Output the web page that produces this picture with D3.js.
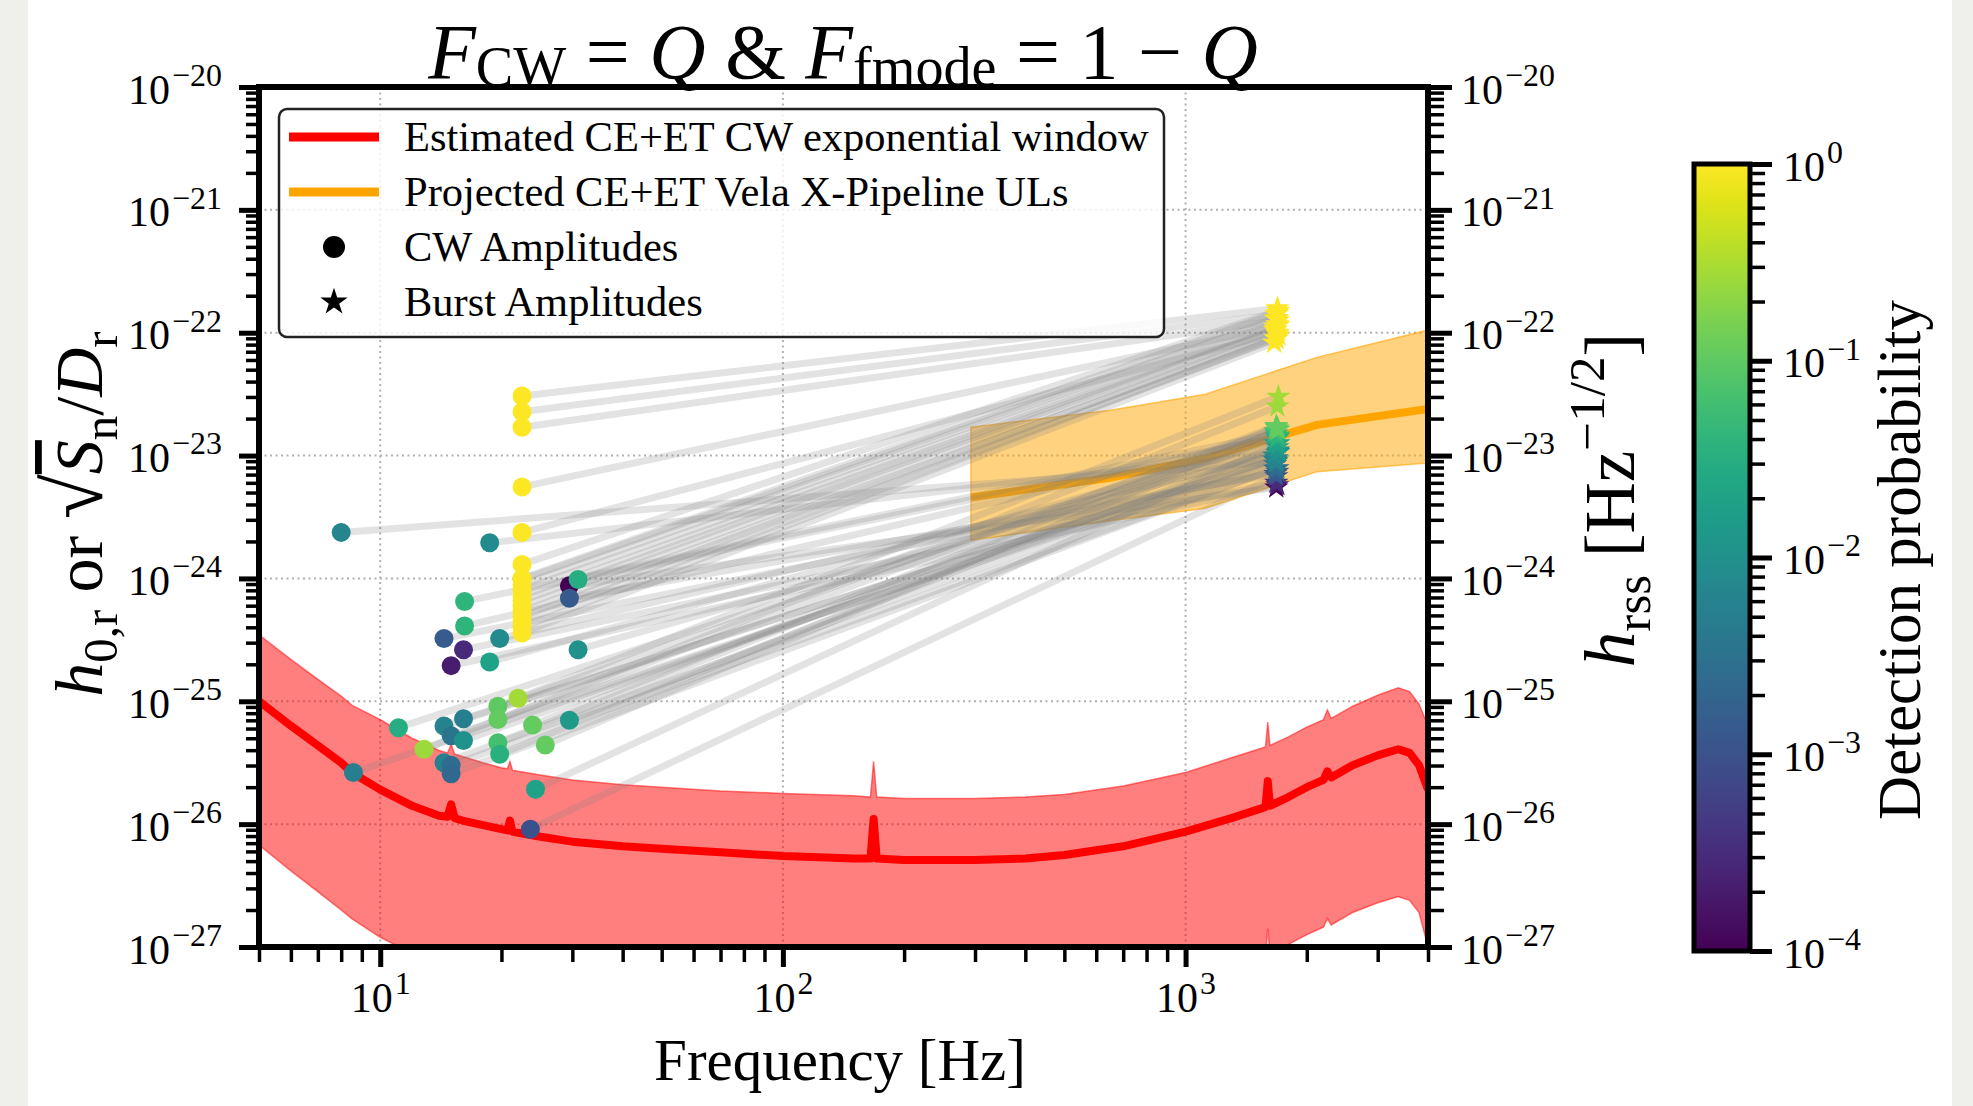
<!DOCTYPE html>
<html>
<head>
<meta charset="utf-8">
<script src="https://cdn.jsdelivr.net/npm/d3@7"></script>
<style>
  body { margin: 0; background: #eff0eb; }
  svg { display: block; }
  text { font-family: "Liberation Serif", "DejaVu Serif", serif; fill: #000; }
</style>
</head>
<body>
<svg id="chart" width="1973" height="1106"></svg>
<script>
// Sensitivity curve (CE+ET CW exponential window): frequency, centre, upper and lower edge
const sensFreq  = [5, 6, 7, 8, 8.5, 10, 12, 14, 14.7, 15, 15.3, 16, 18, 20, 20.7, 21, 21.3, 22, 25, 30, 40, 50, 70, 100, 150, 165, 168, 171, 200, 300, 400, 500, 700, 1000, 1300, 1550, 1580, 1600, 1620, 1800, 2000, 2200, 2250, 2300, 2600, 3000, 3374, 3600, 3800, 4000];
const sensCenter = [1.0e-25, 6.31e-26, 4.37e-26, 3.16e-26, 2.63e-26, 1.91e-26, 1.41e-26, 1.17e-26, 1.15e-26, 1.45e-26, 1.12e-26, 1.07e-26, 9.8e-27, 9.1e-27, 8.9e-27, 1.07e-26, 8.7e-27, 8.5e-27, 7.9e-27, 7.2e-27, 6.6e-27, 6.3e-27, 5.9e-27, 5.5e-27, 5.25e-27, 5.25e-27, 1.10e-26, 5.25e-27, 5.1e-27, 5.1e-27, 5.25e-27, 5.6e-27, 6.6e-27, 8.7e-27, 1.12e-26, 1.35e-26, 1.38e-26, 2.24e-26, 1.41e-26, 1.66e-26, 2.0e-26, 2.29e-26, 2.69e-26, 2.40e-26, 3.02e-26, 3.63e-26, 4.07e-26, 3.80e-26, 3.02e-26, 1.91e-26];
const sensUpper = [3.47e-25, 2.19e-25, 1.51e-25, 1.10e-25, 9.3e-26, 7.1e-26, 5.0e-26, 3.98e-26, 3.80e-26, 4.47e-26, 3.72e-26, 3.55e-26, 3.16e-26, 2.88e-26, 2.82e-26, 3.24e-26, 2.75e-26, 2.69e-26, 2.51e-26, 2.29e-26, 2.09e-26, 2.0e-26, 1.86e-26, 1.78e-26, 1.70e-26, 1.66e-26, 3.24e-26, 1.66e-26, 1.62e-26, 1.62e-26, 1.66e-26, 1.74e-26, 2.04e-26, 2.63e-26, 3.47e-26, 4.17e-26, 4.27e-26, 6.76e-26, 4.37e-26, 5.13e-26, 6.17e-26, 7.08e-26, 8.51e-26, 7.24e-26, 9.12e-26, 1.12e-25, 1.29e-25, 1.20e-25, 9.5e-26, 6.31e-26];
const sensLower = [6.76e-27, 4.17e-27, 2.82e-27, 2.0e-27, 1.70e-27, 1.20e-27, 8.9e-28, 7.4e-28, 7.1e-28, 8.9e-28, 7.0e-28, 6.8e-28, 6.2e-28, 5.8e-28, 5.6e-28, 6.8e-28, 5.5e-28, 5.4e-28, 5.0e-28, 4.6e-28, 4.2e-28, 4.0e-28, 3.7e-28, 3.5e-28, 3.3e-28, 3.3e-28, 6.9e-28, 3.3e-28, 3.2e-28, 3.2e-28, 3.3e-28, 3.5e-28, 4.2e-28, 5.5e-28, 7.1e-28, 8.5e-28, 8.7e-28, 1.41e-27, 8.9e-28, 1.05e-27, 1.26e-27, 1.45e-27, 1.70e-27, 1.51e-27, 1.91e-27, 2.29e-27, 2.57e-27, 2.40e-27, 1.91e-27, 1.0e-27];

// Projected Vela X-Pipeline upper limits
const velaFreq   = [293, 650, 1120, 2120, 4000];
const velaCenter = [4.57e-24, 6.6e-24, 9.5e-24, 1.78e-23, 2.40e-23];
const velaUpper  = [1.70e-23, 2.34e-23, 3.16e-23, 6.3e-23, 1.05e-22];
const velaLower  = [2.04e-24, 2.95e-24, 3.72e-24, 7.4e-24, 8.7e-24];

// CW amplitudes (circles), detection probability and matching burst amplitudes (stars)
const cwFreq    = [22.5, 22.5, 22.5, 22.5, 22.5, 22.5, 22.5, 22.5, 22.5, 22.5, 22.5, 22.5, 22.5, 22.5, 22.5, 22.5, 22.5, 22.5,
                   8.0, 18.7, 29.5, 31.0, 29.5, 16.2, 16.2, 14.4, 16.1, 19.8, 15.0, 18.7, 31.0, 22.0, 19.6, 19.6, 16.1, 11.1, 14.4, 15.0, 16.1, 23.9, 29.5, 12.85, 19.6, 19.8, 25.7, 14.4, 15.0, 15.0, 8.58, 24.3, 23.6];
const cwAmp     = [3.05e-23, 2.27e-23, 1.70e-23, 5.56e-24, 2.37e-24, 1.30e-24, 9.8e-25, 8.1e-25, 6.6e-25, 5.4e-25, 4.5e-25, 3.6e-25, 1.0e-24, 8.9e-25, 7.2e-25, 6.0e-25, 4.9e-25, 4.0e-25,
                   2.37e-24, 1.95e-24, 8.7e-25, 9.8e-25, 6.9e-25, 6.5e-25, 4.1e-25, 3.24e-25, 2.63e-25, 3.24e-25, 1.95e-25, 2.09e-25, 2.63e-25, 1.06e-25, 9.1e-26, 7.1e-26, 7.2e-26, 6.1e-26, 6.3e-26, 5.25e-26, 4.8e-26, 6.4e-26, 7.0e-26, 4.07e-26, 4.6e-26, 3.7e-26, 4.4e-26, 3.16e-26, 3.02e-26, 2.57e-26, 2.63e-26, 1.92e-26, 9.1e-27];
const detProb   = [1.0, 0.98, 0.97, 0.96, 0.95, 0.99, 0.7, 0.97, 0.98, 0.96, 0.97, 0.95, 0.98, 0.97, 0.99, 0.96, 0.98, 0.97,
                   0.0063, 0.008, 0.0001, 0.03, 0.0013, 0.04, 0.04, 0.0014, 0.0003, 0.008, 0.0002, 0.02, 0.01, 0.28, 0.1, 0.11, 0.005, 0.03, 0.0063, 0.0035, 0.011, 0.11, 0.014, 0.25, 0.063, 0.035, 0.11, 0.0056, 0.0025, 0.0022, 0.005, 0.02, 0.001];
const burstFreq = [1690, 1680, 1700, 1670, 1690, 1700, 1680, 1690, 1670, 1700, 1680, 1660, 1690, 1680, 1700, 1670, 1690, 1680,
                   1680, 1690, 1680, 1690, 1670, 1680, 1700, 1690, 1680, 1660, 1690, 1670, 1700, 1700, 1690, 1680, 1660, 1690, 1680, 1670, 1700, 1680, 1690, 1690, 1670, 1690, 1700, 1680, 1690, 1670, 1680, 1700, 1680];
const burstAmp  = [1.58e-22, 1.41e-22, 1.26e-22, 1.12e-22, 1.0e-22, 1.51e-22, 1.32e-22, 1.17e-22, 1.07e-22, 9.5e-23, 8.9e-23, 8.3e-23, 1.45e-22, 1.29e-22, 1.15e-22, 1.05e-22, 9.8e-23, 9.1e-23,
                   8.9e-24, 1.05e-23, 5.5e-24, 1.41e-23, 7.1e-24, 1.51e-23, 1.45e-23, 7.4e-24, 6.0e-24, 1.0e-23, 5.75e-24, 1.26e-23, 1.10e-23, 3.02e-23, 1.66e-23, 1.74e-23, 9.3e-24, 1.38e-23, 9.5e-24, 8.5e-24, 1.07e-23, 1.70e-23, 1.17e-23, 2.51e-23, 1.58e-23, 1.45e-23, 1.62e-23, 9.1e-24, 7.9e-24, 7.8e-24, 9.3e-24, 1.26e-23, 6.8e-24];

const xMajor  = [10, 100, 1000];
const yMajor  = [1e-27, 1e-26, 1e-25, 1e-24, 1e-23, 1e-22, 1e-21, 1e-20];
const cbMajor = [1e-4, 1e-3, 1e-2, 1e-1, 1];

const legendLabels = ["Estimated CE+ET CW exponential window", "Projected CE+ET Vela X-Pipeline ULs", "CW Amplitudes", "Burst Amplitudes"];

// ---------------------------------------------------------------
const svg = d3.select("#chart");
const plot = {left: 259, right: 1428, top: 87, bottom: 947};

svg.append("rect").attr("x", 28).attr("y", 0).attr("width", 1924).attr("height", 1106).attr("fill", "#fff");

const x = d3.scaleLog().domain([5, 4000]).range([plot.left, plot.right]);
const y = d3.scaleLog().domain([1e-27, 1e-20]).range([plot.bottom, plot.top]);
const color = d3.scaleSequentialLog(d3.interpolateViridis).domain([1e-4, 1]);

function minorTicks(lo, hi) {
  const out = [];
  for (let e = Math.floor(Math.log10(lo)); e <= Math.ceil(Math.log10(hi)); e++) {
    for (let k = 2; k <= 9; k++) {
      const v = k * Math.pow(10, e);
      if (v >= lo * 0.999 && v <= hi * 1.001) out.push(v);
    }
  }
  return out;
}

// write "10^n" with a superscript into a text node
function powLabel(sel, size) {
  sel.each(function(d) {
    const t = d3.select(this).text(null).attr("font-size", size);
    const e = Math.round(Math.log10(d));
    t.append("tspan").text("10");
    t.append("tspan").attr("dx", 2).attr("dy", -0.42 * size).attr("font-size", 0.76 * size)
      .text(e < 0 ? "\u2212" + (-e) : String(e));
  });
}

// math-like text with sub/superscripts
function mathText(text, parts, size, subShift) {
  let cur = 0;
  parts.forEach(p => {
    const shift = p.sub ? (subShift || 0.22) * size : p.sup ? -0.42 * size : 0;
    const ts = text.append("tspan").text(p.t)
      .attr("dy", shift - cur)
      .attr("font-size", (p.sub || p.sup) ? 0.72 * size : (p.scale || 1) * size)
      .attr("font-style", p.it ? "italic" : "normal");
    if (p.over) ts.attr("text-decoration", "overline");
    cur = shift;
  });
}

svg.append("defs").append("clipPath").attr("id", "clip")
  .append("rect").attr("x", plot.left).attr("y", plot.top)
  .attr("width", plot.right - plot.left).attr("height", plot.bottom - plot.top);

// grid
const grid = svg.append("g").attr("stroke", "#b0b0b0").attr("stroke-width", 2).attr("stroke-dasharray", "2 3.5");
grid.selectAll("line.gx").data(xMajor).join("line")
  .attr("x1", d => x(d)).attr("x2", d => x(d)).attr("y1", plot.top).attr("y2", plot.bottom);
grid.selectAll("line.gy").data(yMajor).join("line")
  .attr("y1", d => y(d)).attr("y2", d => y(d)).attr("x1", plot.left).attr("x2", plot.right);

const g = svg.append("g").attr("clip-path", "url(#clip)");

const sens = sensFreq.map((f, i) => ({f, c: sensCenter[i], u: sensUpper[i], l: sensLower[i]}));
const vela = velaFreq.map((f, i) => ({f, c: velaCenter[i], u: velaUpper[i], l: velaLower[i]}));

const band = d3.area().x(d => x(d.f)).y0(d => y(d.l)).y1(d => y(d.u));
const mid = d3.line().x(d => x(d.f)).y(d => y(d.c));

g.append("path").datum(sens).attr("d", band)
  .attr("fill", "red").attr("fill-opacity", 0.5)
  .attr("stroke", "red").attr("stroke-opacity", 0.5).attr("stroke-width", 1.5);
g.append("path").datum(sens).attr("d", mid)
  .attr("fill", "none").attr("stroke", "red").attr("stroke-width", 8).attr("stroke-linejoin", "round");

g.append("path").datum(vela).attr("d", band)
  .attr("fill", "orange").attr("fill-opacity", 0.5)
  .attr("stroke", "orange").attr("stroke-opacity", 0.6).attr("stroke-width", 1.5);
g.append("path").datum(vela).attr("d", mid)
  .attr("fill", "none").attr("stroke", "orange").attr("stroke-width", 8);

const pts = cwFreq.map((f, i) => ({cf: f, ca: cwAmp[i], p: detProb[i], bf: burstFreq[i], ba: burstAmp[i]}));

g.append("g").selectAll("line").data(pts).join("line")
  .attr("x1", d => x(d.cf)).attr("y1", d => y(d.ca))
  .attr("x2", d => x(d.bf)).attr("y2", d => y(d.ba))
  .attr("stroke", "gray").attr("stroke-opacity", 0.22).attr("stroke-width", 7);

g.append("g").selectAll("circle").data(pts).join("circle")
  .attr("cx", d => x(d.cf)).attr("cy", d => y(d.ca)).attr("r", 9.5)
  .attr("fill", d => color(d.p));

const star = d3.symbol(d3.symbolStar, 185);
g.append("g").selectAll("path").data(pts.slice().sort((a, b) => a.p - b.p)).join("path")
  .attr("d", star)
  .attr("transform", d => `translate(${x(d.bf)},${y(d.ba)})`)
  .attr("fill", d => color(d.p));

// axes
function styleTicks(sel, w) {
  sel.select(".domain").remove();
  sel.selectAll(".tick line").attr("stroke", "#000").attr("stroke-width", w);
}

const xMinor = minorTicks(5, 4000);
svg.append("g").attr("transform", `translate(0,${plot.bottom})`)
  .call(d3.axisBottom(x).tickValues(xMinor).tickSize(15).tickFormat(""))
  .call(s => styleTicks(s, 3.5));
const xAx = svg.append("g").attr("transform", `translate(0,${plot.bottom})`)
  .call(d3.axisBottom(x).tickValues(xMajor).tickSize(20).tickSizeOuter(0))
  .call(s => styleTicks(s, 5));
xAx.selectAll(".tick text").attr("y", 65).attr("dy", 0).call(powLabel, 42);

const yMinor = minorTicks(1e-27, 1e-20);
svg.append("g").attr("transform", `translate(${plot.left},0)`)
  .call(d3.axisLeft(y).tickValues(yMinor).tickSize(13).tickFormat(""))
  .call(s => styleTicks(s, 3.5));
const yAx = svg.append("g").attr("transform", `translate(${plot.left},0)`)
  .call(d3.axisLeft(y).tickValues(yMajor).tickSize(20).tickPadding(17))
  .call(s => styleTicks(s, 5));
yAx.selectAll(".tick text").attr("dy", 16).call(powLabel, 42);

svg.append("g").attr("transform", `translate(${plot.right},0)`)
  .call(d3.axisRight(y).tickValues(yMinor).tickSize(16).tickFormat(""))
  .call(s => styleTicks(s, 3.5));
const yAxR = svg.append("g").attr("transform", `translate(${plot.right},0)`)
  .call(d3.axisRight(y).tickValues(yMajor).tickSize(24).tickPadding(9))
  .call(s => styleTicks(s, 5));
yAxR.selectAll(".tick text").attr("dy", 16).call(powLabel, 42);

// spines
svg.append("rect").attr("x", plot.left).attr("y", plot.top)
  .attr("width", plot.right - plot.left).attr("height", plot.bottom - plot.top)
  .attr("fill", "none").attr("stroke", "#000").attr("stroke-width", 6);

// legend
const leg = svg.append("g").attr("transform", "translate(279,109)");
leg.append("rect").attr("width", 885).attr("height", 228).attr("rx", 8)
  .attr("fill", "#fff").attr("fill-opacity", 0.8).attr("stroke", "#222").attr("stroke-width", 2.5);
const rowY = i => 28 + i * 55;
leg.append("line").attr("x1", 10).attr("x2", 100).attr("y1", rowY(0)).attr("y2", rowY(0)).attr("stroke", "red").attr("stroke-width", 9);
leg.append("line").attr("x1", 10).attr("x2", 100).attr("y1", rowY(1)).attr("y2", rowY(1)).attr("stroke", "orange").attr("stroke-width", 9);
leg.append("circle").attr("cx", 55).attr("cy", rowY(2)).attr("r", 11).attr("fill", "#000");
leg.append("path").attr("d", d3.symbol(d3.symbolStar, 230)).attr("transform", `translate(55,${rowY(3)})`).attr("fill", "#000");
leg.selectAll("text").data(legendLabels).join("text")
  .attr("x", 125).attr("y", (d, i) => rowY(i) + 14).attr("font-size", 42.5).text(d => d);

// title
const title = svg.append("text").attr("x", 843).attr("y", 78).attr("text-anchor", "middle");
mathText(title, [
  {t: "F", it: true}, {t: "CW", sub: true}, {t: " = "}, {t: "Q", it: true}, {t: " & "},
  {t: "F", it: true}, {t: "fmode", sub: true}, {t: " = 1 \u2212 "}, {t: "Q", it: true}
], 78, 0.1);

// axis labels
svg.append("text").attr("x", 840).attr("y", 1080).attr("text-anchor", "middle")
  .attr("font-size", 59).text("Frequency [Hz]");

const yl = svg.append("text").attr("transform", "translate(102,514) rotate(-90)").attr("text-anchor", "middle");
mathText(yl, [
  {t: "h", it: true}, {t: "0,r", sub: true}, {t: " or "}, {t: "\u221A", scale: 1.2},
  {t: "S", it: true, over: true}, {t: "n", sub: true}, {t: "/"}, {t: "D", it: true}, {t: "r", sub: true}
], 68);

const yr = svg.append("text").attr("transform", "translate(1634,500) rotate(-90)").attr("text-anchor", "middle");
mathText(yr, [
  {t: "h", it: true}, {t: "rss", sub: true}, {t: " [Hz"}, {t: "\u22121/2", sup: true}, {t: "]"}
], 71);

// colorbar
const cb = {left: 1694, right: 1750, top: 164, bottom: 951};
const cy = d3.scaleLog().domain([1e-4, 1]).range([cb.bottom, cb.top]);
const grad = svg.select("defs").append("linearGradient").attr("id", "viridis")
  .attr("x1", 0).attr("y1", 1).attr("x2", 0).attr("y2", 0);
grad.selectAll("stop").data(d3.range(0, 1.0001, 0.05)).join("stop")
  .attr("offset", d => d).attr("stop-color", d => d3.interpolateViridis(d));
svg.append("rect").attr("x", cb.left).attr("y", cb.top).attr("width", cb.right - cb.left)
  .attr("height", cb.bottom - cb.top).attr("fill", "url(#viridis)");

svg.append("g").attr("transform", `translate(${cb.right},0)`)
  .call(d3.axisRight(cy).tickValues(minorTicks(1e-4, 1)).tickSize(15).tickFormat(""))
  .call(s => styleTicks(s, 3.5));
const cbAx = svg.append("g").attr("transform", `translate(${cb.right},0)`)
  .call(d3.axisRight(cy).tickValues(cbMajor).tickSize(22).tickPadding(11))
  .call(s => styleTicks(s, 5));
cbAx.selectAll(".tick text").attr("dy", 16).call(powLabel, 42);

svg.append("rect").attr("x", cb.left).attr("y", cb.top).attr("width", cb.right - cb.left)
  .attr("height", cb.bottom - cb.top).attr("fill", "none").attr("stroke", "#000").attr("stroke-width", 5);

svg.append("text").attr("transform", "translate(1920,560) rotate(-90)").attr("text-anchor", "middle")
  .attr("font-size", 61).text("Detection probability");
</script>
</body>
</html>
